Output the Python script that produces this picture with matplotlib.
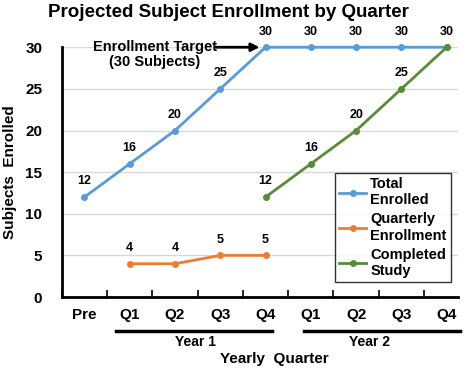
import matplotlib.pyplot as plt
import numpy as np

plt.rcParams['font.family'] = ['Liberation Sans', 'DejaVu Sans']
plt.rcParams['font.weight'] = 'bold'

quarters = ['Pre', 'Q1', 'Q2', 'Q3', 'Q4', 'Q1', 'Q2', 'Q3', 'Q4']
total_enrolled = [12, 16, 20, 25, 30, 30, 30, 30, 30]
quarterly_x = [1, 2, 3, 4]
quarterly_enrollment = [4, 4, 5, 5]
completed_x = [4, 5, 6, 7, 8]
completed_study = [12, 16, 20, 25, 30]

blue = '#5B9BD5'
orange = '#ED7D31'
green = '#5A8A3C'

fig = plt.figure(figsize=(4.69, 3.69), dpi=100)
ax = fig.add_axes([0.1316, 0.195, 0.845, 0.677])

x = np.arange(len(quarters))
ax.plot(x, total_enrolled, color=blue, lw=2, marker='o', ms=4, label='Total\nEnrolled', clip_on=False, zorder=3)
ax.plot(quarterly_x, quarterly_enrollment, color=orange, lw=2, marker='o', ms=4, label='Quarterly\nEnrollment', clip_on=False, zorder=3)
ax.plot(completed_x, completed_study, color=green, lw=2, marker='o', ms=4, label='Completed\nStudy', clip_on=False, zorder=4)

for xi, v in zip(x, total_enrolled):
    ax.annotate(str(v), (xi, v), xytext=(0, 7), textcoords='offset points', ha='center', va='bottom', fontsize=9)
for xi, v in zip(quarterly_x, quarterly_enrollment):
    ax.annotate(str(v), (xi, v), xytext=(0, 7), textcoords='offset points', ha='center', va='bottom', fontsize=9)
for xi, v in zip(completed_x[:-1], completed_study[:-1]):
    ax.annotate(str(v), (xi, v), xytext=(0, 7), textcoords='offset points', ha='center', va='bottom', fontsize=9)

ax.set_xlim(-0.5, 8.25)
ax.set_ylim(0, 30)
ax.set_yticks(range(0, 31, 5))
ax.set_xticks(np.arange(-0.5, 8.5, 1), minor=False)
ax.set_xticklabels([])
ax.set_xticks(x, minor=True)
ax.set_xticklabels(quarters, minor=True, fontsize=11)
ax.tick_params(axis='x', which='minor', length=0, pad=8)
ax.tick_params(axis='x', which='major', length=5, width=1.2, direction='in')
ax.tick_params(axis='y', length=0, labelsize=11, pad=14)
ax.grid(axis='y', color='#D9D9D9', lw=1)
ax.set_axisbelow(True)
for s in ['top', 'right']:
    ax.spines[s].set_visible(False)
ax.spines['left'].set_linewidth(2)
ax.spines['bottom'].set_linewidth(2)

ax.set_title('Projected Subject Enrollment by Quarter', fontsize=13.5, fontweight='bold', x=0.42, pad=22)
ax.set_ylabel('Subjects  Enrolled', fontsize=11, fontweight='bold', labelpad=6)

# year groupings
ax.plot([0.7, 4.15], [-0.135, -0.135], transform=ax.get_xaxis_transform(), color='black', lw=2.5, clip_on=False)
ax.plot([4.85, 8.3], [-0.135, -0.135], transform=ax.get_xaxis_transform(), color='black', lw=2.5, clip_on=False)
ax.text(2.45, -0.18, 'Year 1', transform=ax.get_xaxis_transform(), ha='center', va='center', fontsize=10)
ax.text(6.3, -0.18, 'Year 2', transform=ax.get_xaxis_transform(), ha='center', va='center', fontsize=10)
ax.text(4.2, -0.25, 'Yearly  Quarter', transform=ax.get_xaxis_transform(), ha='center', va='center', fontsize=11)

ax.annotate('', xy=(3.93, 30), xytext=(2.85, 30),
            arrowprops=dict(arrowstyle='-|>', color='black', lw=2, mutation_scale=12))
ax.text(1.55, 29.1, 'Enrollment Target\n(30 Subjects)', ha='center', va='center', fontsize=10.5, linespacing=1.05)

leg = ax.legend(loc='lower right', bbox_to_anchor=(1.0, 0.03), fontsize=10.5, frameon=True, fancybox=False,
                edgecolor='black', handlelength=1.8, handletextpad=0.3, labelspacing=0.35, borderpad=0.3)
leg.get_frame().set_linewidth(1)

fig.savefig('out.png', dpi=100)
